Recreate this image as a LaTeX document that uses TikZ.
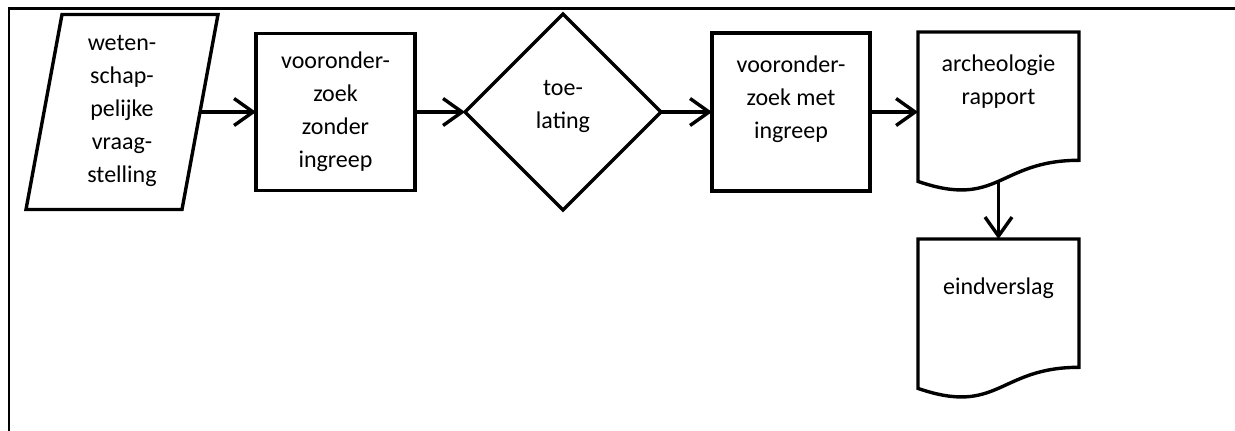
\documentclass[tikz,border=0pt]{standalone}
\usepackage{fontspec}
\setmainfont{Carlito}
\usetikzlibrary{positioning,shapes.geometric,arrows.meta}
\tikzset{
    kader/.style={line width=2.4pt},
    rand/.style={draw, line width=3.4pt, inner sep=0pt, outer sep=0pt},
    blok/.style={rand, rectangle},
    ruit/.style={rand, diamond, minimum width=196pt, minimum height=196pt},
    vlak/.style={rectangle, inner sep=0pt, outer sep=0pt},
    tekst/.style={align=center, inner sep=0pt, font=\fontsize{24}{33}\selectfont},
    pijl/.style={line width=3.4pt, -{Straight Barb[length=19pt, width=27pt]}}
}
\newcommand{\docrand}[1]{
    \draw[line width=3.4pt] ([yshift=10.6pt]#1.south west) -- (#1.north west) -- (#1.north east)
        -- ([yshift=31.7pt]#1.south east) .. controls ([yshift=31.7pt]#1.south) and ([yshift=-17.2pt]#1.south)
        .. ([yshift=10.6pt]#1.south west) -- cycle;
}
\begin{document}
\begin{tikzpicture}[x=1pt, y=-1pt]
    \useasboundingbox (0,0) rectangle (1235,431);
    \draw[kader] (9,431) -- (9,8.5) -- (1235,8.5);

    \node[vlak, minimum width=192pt, minimum height=195pt] (vraag) at (122,112) {};
    \node[blok, minimum width=159pt, minimum height=157pt] (vooraf) at (335.5,112) {};
    \node[ruit] (toelating) at (563,112) {};
    \node[blok, minimum width=158pt, minimum height=158pt] (ingreep) at (791,112) {};
    \node[vlak, minimum width=161pt, minimum height=160pt] (rapport) at (998.5,112) {};
    \node[vlak, minimum width=161pt, minimum height=160pt] (eind) at (998.5,319) {};
    \draw[line width=3.4pt] (vraag.south west) -- ([xshift=36pt]vraag.north west) -- (vraag.north east)
        -- ([xshift=-36pt]vraag.south east) -- cycle;
    \docrand{rapport}
    \docrand{eind}
    \coordinate (vraaguit) at ([xshift=-18pt]vraag.east);

    \node[tekst, below=21pt of vraag.north] (vraagtekst) {weten-\\schap-\\pelijke\\vraag-\\stelling};
    \node[tekst, below=18pt of vooraf.north] (vooraftekst) {vooronder-\\zoek\\zonder\\ingreep};
    \node[tekst, below=66pt of toelating.north] (toelatingtekst) {toe-\\lating};
    \node[tekst, below=23pt of ingreep.north] (ingreeptekst) {vooronder-\\zoek met\\ingreep};
    \node[tekst, below=23pt of rapport.north] (rapporttekst) {archeologie\\rapport};
    \node[tekst, below=39pt of eind.north] (eindtekst) {eindverslag};

    \draw[pijl] (vraaguit) -- (vooraf);
    \draw[pijl] (vooraf) -- (toelating);
    \draw[pijl] (toelating) -- (ingreep);
    \draw[pijl] (ingreep) -- (rapport);
    \draw[pijl] ([yshift=10.7pt]rapport.south) -- (eind.north);
\end{tikzpicture}
\end{document}
